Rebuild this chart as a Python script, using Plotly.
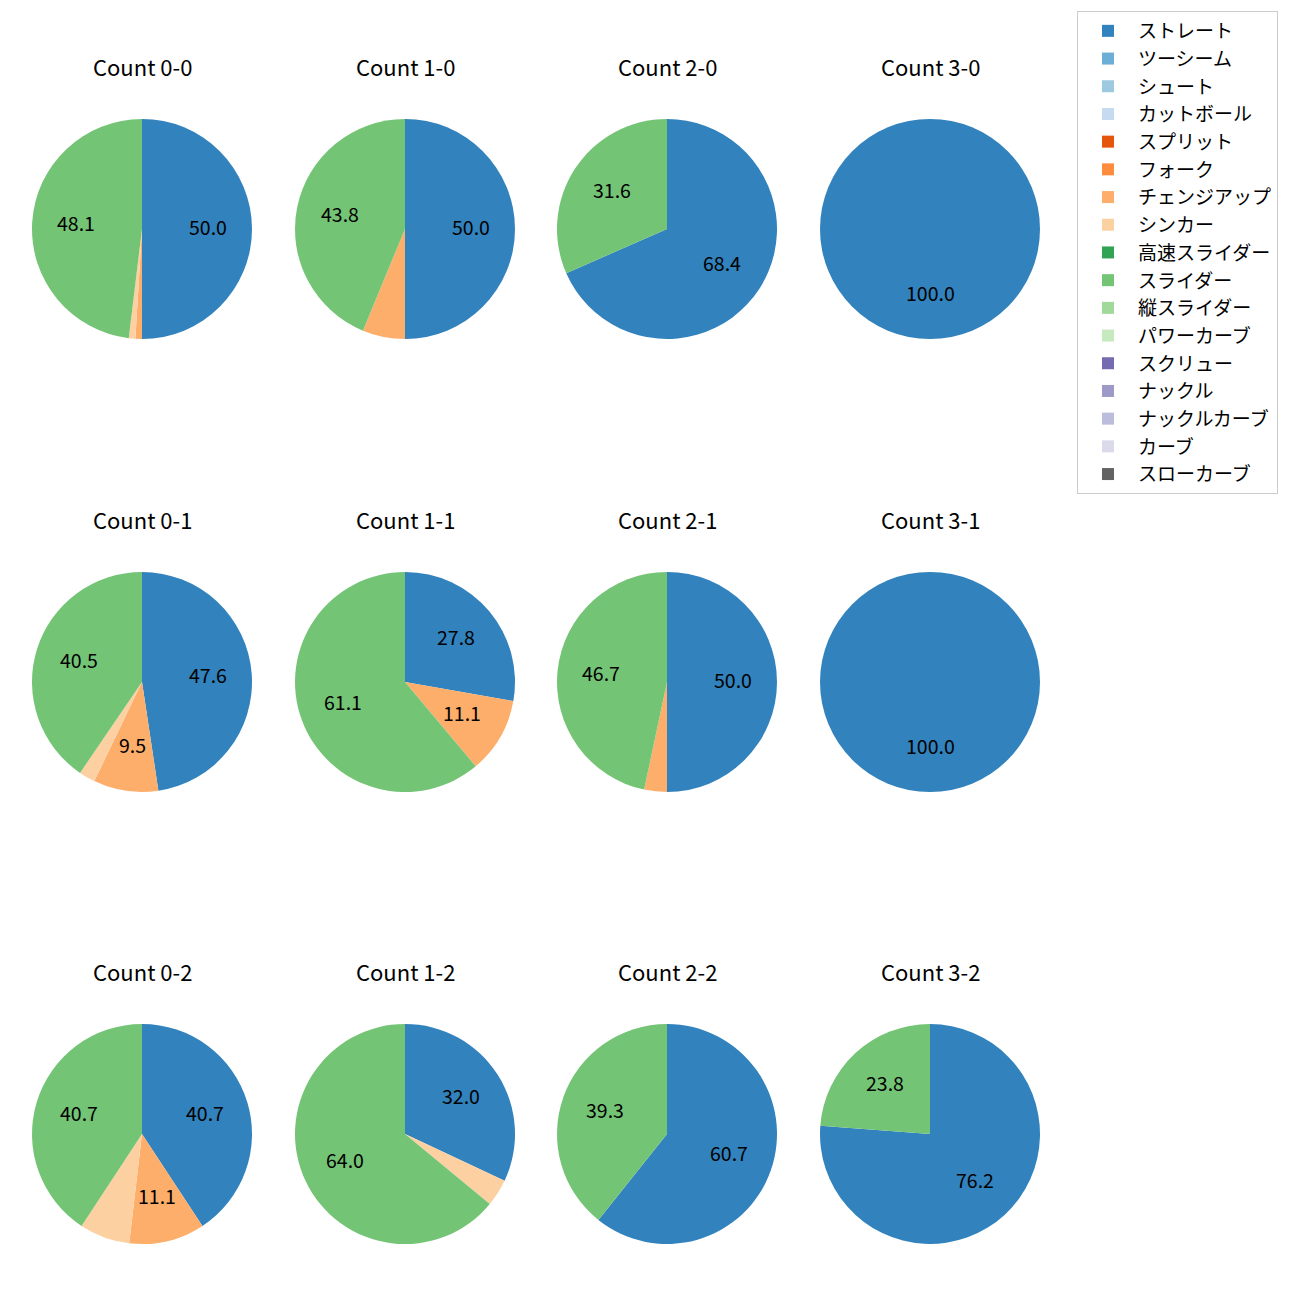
import math
import plotly.graph_objects as go

pitch_types = ["ストレート", "ツーシーム", "シュート", "カットボール", "スプリット", "フォーク",
               "チェンジアップ", "シンカー", "高速スライダー", "スライダー", "縦スライダー",
               "パワーカーブ", "スクリュー", "ナックル", "ナックルカーブ", "カーブ", "スローカーブ"]
colors = ["#3182bd", "#6baed6", "#9ecae1", "#c6dbef", "#e6550d", "#fd8d3c", "#fdae6b", "#fdd0a2",
          "#31a354", "#74c476", "#a1d99b", "#c7e9c0", "#756bb1", "#9e9ac8", "#bcbddc", "#dadaeb", "#636363"]

counts = ["0-0", "1-0", "2-0", "3-0",
          "0-1", "1-1", "2-1", "3-1",
          "0-2", "1-2", "2-2", "3-2"]

# pitch counts per situation: ストレート, チェンジアップ, シンカー, スライダー
straight = [52, 8, 13, 3, 20, 5, 15, 2, 11, 8, 17, 16]
changeup = [1, 1, 0, 0, 4, 2, 1, 0, 3, 0, 0, 0]
sinker = [1, 0, 0, 0, 1, 0, 0, 0, 2, 1, 0, 0]
slider = [50, 7, 6, 0, 17, 11, 14, 0, 11, 16, 11, 5]

W = H = 1300
OFF = 8  # page body margin
col_cx = [142 - OFF, 405 - OFF, 667 - OFF, 930 - OFF]
row_cy = [229 - OFF, 682 - OFF, 1134 - OFF]
R = 110
title_y = [66 - OFF, 519 - OFF, 971 - OFF]
LABEL_DY = -3
FONT = "Noto Sans CJK JP"

fig = go.Figure()
annotations = []
for i, c in enumerate(counts):
    row, col = divmod(i, 4)
    vals = {p: 0 for p in pitch_types}
    vals["ストレート"] = straight[i]
    vals["チェンジアップ"] = changeup[i]
    vals["シンカー"] = sinker[i]
    vals["スライダー"] = slider[i]
    values = [vals[p] for p in pitch_types]
    total = sum(values)
    cx, cy = col_cx[col], row_cy[row]
    fig.add_trace(go.Pie(
        labels=pitch_types, values=values, textinfo="none",
        marker=dict(colors=colors, line=dict(width=0)),
        sort=False, direction="clockwise", rotation=0,
        domain=dict(x=[(cx - R) / W, (cx + R) / W], y=[1 - (cy + R) / H, 1 - (cy - R) / H]),
        showlegend=(i == 0), hoverinfo="label+percent",
    ))
    # percentage labels at 0.6 radius along slice bisector (clockwise from top)
    cum = 0.0
    for v in values:
        if v <= 0:
            continue
        frac = v / total
        mid = cum + frac / 2
        cum += frac
        pct = 100.0 * frac
        if pct < 8:
            continue
        theta = 2 * math.pi * mid
        px = cx + 0.6 * R * math.sin(theta)
        py = cy - 0.6 * R * math.cos(theta) + LABEL_DY
        annotations.append(dict(text=f"{pct:.1f}", x=px / W, y=1 - py / H,
                                xref="paper", yref="paper", showarrow=False,
                                xanchor="center", yanchor="middle",
                                font=dict(size=19.5, family=FONT, color="black")))
    annotations.append(dict(text=f"Count {c}", x=cx / W, y=1 - title_y[row] / H,
                            xref="paper", yref="paper", showarrow=False,
                            xanchor="center", yanchor="middle",
                            font=dict(size=22, family=FONT, color="black")))

fig.update_layout(
    width=W, height=H, margin=dict(l=0, r=0, t=0, b=0),
    paper_bgcolor="white", plot_bgcolor="white",
    annotations=annotations,
    font=dict(family=FONT, size=19, color="black"),
    legend=dict(x=(1077 - OFF) / W, y=1 - (11 - OFF) / H, xanchor="left", yanchor="top",
                bordercolor="#cccccc", borderwidth=1, bgcolor="white",
                itemwidth=50,
                font=dict(size=19, family=FONT, color="black"), traceorder="normal"),
)
fig.write_html("out.html")
